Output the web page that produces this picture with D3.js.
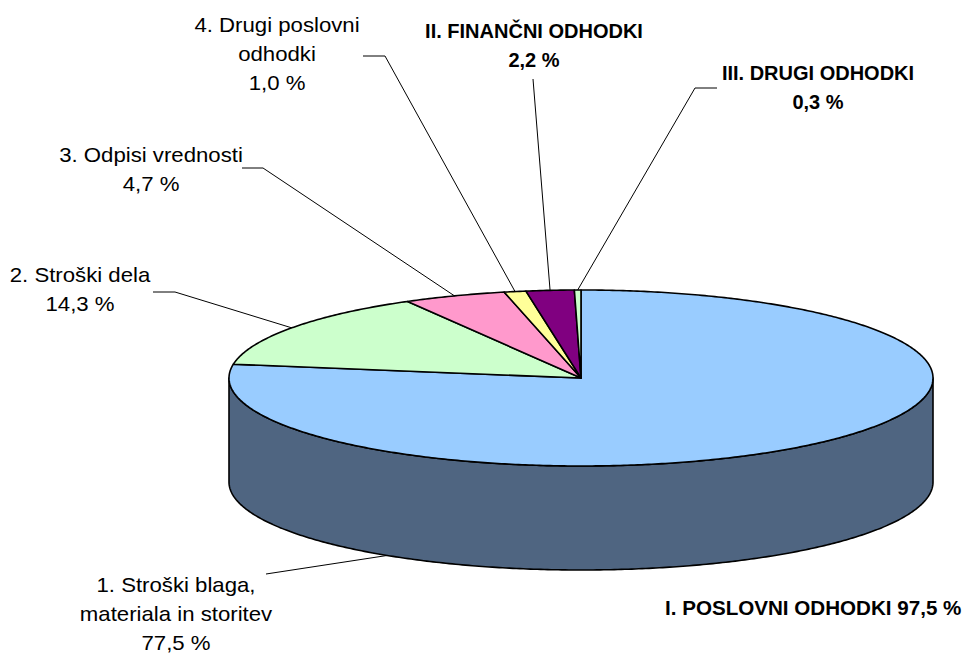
<!DOCTYPE html>
<html>
<head>
<meta charset="utf-8">
<script src="https://cdn.jsdelivr.net/npm/d3@7"></script>
<style>
  html, body { margin: 0; padding: 0; background: #fff; }
  text { font-family: "Liberation Sans", Arial, sans-serif; fill: #000; }
</style>
</head>
<body>
<div id="chart"></div>
<script>
// Chart data
const categories = [
  '1. Stroški blaga, materiala in storitev',
  '2. Stroški dela',
  '3. Odpisi vrednosti',
  '4. Drugi poslovni odhodki',
  'II. FINANČNI ODHODKI',
  'III. DRUGI ODHODKI'
];
const values = [77.5, 14.3, 4.7, 1.0, 2.2, 0.3];
const labelLines = [
  ['1. Stroški blaga,', 'materiala in storitev'],
  ['2. Stroški dela'],
  ['3. Odpisi vrednosti'],
  ['4. Drugi poslovni', 'odhodki'],
  ['II. FINANČNI ODHODKI'],
  ['III. DRUGI ODHODKI']
];
const boldLabels = [false, false, false, false, true, true];
const groupName = 'I. POSLOVNI ODHODKI';
const groupValue = 97.5;

const colors = ['#99ccff', '#ccffcc', '#ff99cc', '#ffff99', '#800080', '#ccffcc'];
const sideColors = ['#4f6581', '#6a856a', '#855068', '#85854f', '#400040', '#6a856a'];

const width = 966;
const height = 654;
const cx = 581, cy = 378, rx = 352, ry = 88, depth = 104;

// label placement (center x, first baseline y) and leader start/elbow
const labelLayout = [
  { x: 176, y: 592, leader: [[266, 574]], bottom: true, anchorAngle: 213.4 },
  { x: 80, y: 282, leader: [[153, 292], [175, 292]] },
  { x: 151, y: 162, leader: [[242, 168], [263, 168]] },
  { x: 277, y: 32, leader: [[363, 56], [385, 56]] },
  { x: 534, y: 38, leader: [[533, 79]] },
  { x: 818, y: 80, leader: [[717, 88], [695, 88]] }
];
const lineGap = 29;
const regularStretch = 1.11;

const fmt = (v) => d3.format('.1f')(v).replace('.', ',') + ' %';

const svg = d3.select('#chart')
  .append('svg')
  .attr('width', width)
  .attr('height', height);

const pie = d3.pie().sort(null).startAngle(0).endAngle(2 * Math.PI);
const arcs = pie(values);

// project an angle (clockwise from top) onto the tilted ellipse
const pt = (a, dy = 0) => [cx + rx * Math.sin(a), cy - ry * Math.cos(a) + dy];
const arcPts = (a0, a1, dy) => {
  const n = Math.max(2, Math.ceil(Math.abs(a1 - a0) / 0.01));
  return d3.range(n + 1).map((i) => pt(a0 + (a1 - a0) * i / n, dy));
};
const line = d3.line();

// side walls (only the front half is visible)
svg.append('g')
  .selectAll('path')
  .data(arcs.filter((d) => d.endAngle > Math.PI / 2 && d.startAngle < 1.5 * Math.PI))
  .enter()
  .append('path')
  .attr('d', (d) => {
    const s = Math.max(d.startAngle, Math.PI / 2);
    const e = Math.min(d.endAngle, 1.5 * Math.PI);
    return line(arcPts(s, e, 0).concat(arcPts(e, s, depth))) + 'Z';
  })
  .attr('fill', (d) => sideColors[d.index])
  .attr('stroke', '#000')
  .attr('stroke-width', 1.6)
  .attr('stroke-linejoin', 'round');

// top faces
svg.append('g')
  .selectAll('path')
  .data(arcs)
  .enter()
  .append('path')
  .attr('d', (d) => line([[cx, cy]].concat(arcPts(d.startAngle, d.endAngle, 0))) + 'Z')
  .attr('fill', (d) => colors[d.index])
  .attr('stroke', '#000')
  .attr('stroke-width', 1.6)
  .attr('stroke-linejoin', 'round');

// leader lines
svg.append('g')
  .selectAll('path')
  .data(arcs)
  .enter()
  .append('path')
  .attr('d', (d) => {
    const lay = labelLayout[d.index];
    const end = lay.bottom
      ? pt(lay.anchorAngle * Math.PI / 180, depth)
      : pt((d.startAngle + d.endAngle) / 2, 0);
    return line(lay.leader.concat([end]));
  })
  .attr('fill', 'none')
  .attr('stroke', '#000')
  .attr('stroke-width', 1);

// labels (regular text is a bit wider in the original, so stretch it)
const labels = svg.append('g')
  .selectAll('text')
  .data(arcs)
  .enter()
  .append('text')
  .attr('text-anchor', 'middle')
  .attr('font-size', '20px')
  .attr('font-weight', (d) => (boldLabels[d.index] ? 'bold' : 'normal'))
  .attr('transform', (d) => {
    const k = boldLabels[d.index] ? 1 : regularStretch;
    return `translate(${labelLayout[d.index].x},0) scale(${k},1)`;
  });

labels.selectAll('tspan')
  .data((d) => labelLines[d.index].concat([fmt(d.data)]).map((t) => ({ t, d })))
  .enter()
  .append('tspan')
  .attr('x', 0)
  .attr('y', (o, i) => labelLayout[o.d.index].y + i * lineGap)
  .text((o) => o.t);

// group label
svg.append('text')
  .attr('transform', 'translate(665,615) scale(1.03,1)')
  .attr('font-size', '20px')
  .attr('font-weight', 'bold')
  .text(`${groupName} ${fmt(groupValue)}`);
</script>
</body>
</html>
